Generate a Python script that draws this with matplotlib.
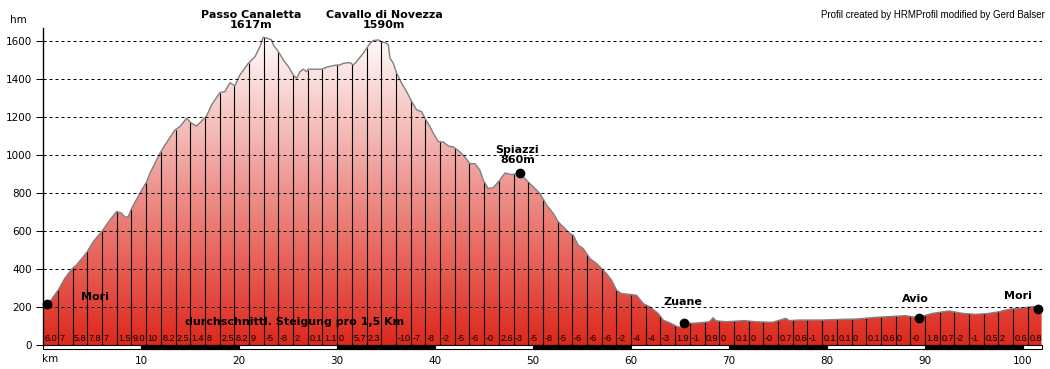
import numpy as np
import matplotlib
matplotlib.use('Agg')
import matplotlib.pyplot as plt
from matplotlib.patches import Polygon, Rectangle

# profile (km, m)
km = [0.0, 0.68, 1.53, 2.21, 2.89, 3.40, 4.43, 5.11, 5.96, 6.81, 7.49, 8.00, 8.34, 8.68,
      9.02, 9.87, 10.55, 10.89, 11.91, 12.42, 13.44, 13.95, 14.63, 15.14, 15.65, 16.67,
      17.18, 18.03, 18.54, 19.05, 19.56, 20.07, 20.93, 21.61, 22.12, 22.46, 22.80, 23.31,
      23.48, 23.99, 24.50, 25.01, 25.52, 25.86, 26.20, 26.54, 26.88, 27.05, 27.56, 28.41,
      28.92, 29.43, 29.94, 30.28, 30.62, 31.30, 31.64, 31.98, 32.66, 33.00, 33.35, 33.69,
      34.20, 34.54, 35.05, 35.22, 35.39, 35.73, 36.07, 36.58, 37.09, 37.60, 38.11, 38.62,
      38.96, 39.47, 39.81, 40.32, 40.83, 41.34, 41.85, 42.53, 43.04, 43.55, 44.06, 44.57,
      44.92, 45.42, 45.93, 46.45, 47.13, 47.81, 48.32, 49.00, 49.51, 50.03, 50.71, 51.39,
      52.07, 52.57, 53.25, 53.76, 54.10, 54.61, 55.12, 55.81, 56.49, 56.99, 57.50, 58.02,
      58.53, 59.04, 59.89, 60.57, 61.25, 61.93, 62.78, 63.29, 63.97, 64.65, 65.00, 65.50,
      66.35, 67.14, 67.99, 68.39, 68.66, 69.68, 71.54, 72.74, 74.44, 75.80, 76.14, 77.16,
      79.54, 81.58, 82.94, 84.98, 86.34, 88.04, 89.06, 89.50, 90.76, 92.46, 93.82, 95.18,
      96.54, 97.56, 98.58, 99.61, 100.46, 101.14, 101.9]
elev = [215, 230, 291, 353, 400, 423, 488, 546, 598, 660, 704, 695, 674, 677,
        721, 800, 861, 905, 1011, 1054, 1133, 1151, 1195, 1168, 1154, 1207,
        1265, 1330, 1335, 1382, 1365, 1423, 1484, 1519, 1572, 1621, 1617, 1607,
        1581, 1546, 1502, 1467, 1423, 1405, 1440, 1453, 1440, 1453, 1453, 1453,
        1463, 1470, 1475, 1475, 1484, 1488, 1475, 1493, 1537, 1563, 1589, 1604,
        1607, 1598, 1589, 1581, 1511, 1484, 1432, 1379, 1335, 1283, 1239, 1230,
        1195, 1151, 1116, 1072, 1070, 1049, 1044, 1018, 991, 956, 956, 921,
        868, 825, 830, 860, 907, 898, 904, 886, 860, 833, 798, 737,
        693, 649, 614, 588, 579, 526, 509, 456, 430, 404, 377, 342,
        289, 272, 268, 263, 219, 202, 167, 132, 118, 100, 96, 118,
        116, 119, 124, 145, 129, 124, 130, 124, 121, 142, 130, 133,
        133, 137, 138, 147, 151, 156, 147, 150, 168, 181, 168, 163,
        168, 177, 190, 195, 200, 204, 205]

# average gradient per 1.5 km segment
seg_labels = ['6.0', '7', '5.8', '7.8', '7', '1.5', '9.0', '10', '8.2', '2.5', '1.4', '8',
              '2.5', '8.2', '9', '-5', '-8', '2', '0.1', '1.1', '0', '5.7', '2.3', '',
              '-10', '-7', '-8', '-2', '-5', '-6', '-0', '2.6', '-3', '-5', '-8', '-5',
              '-6', '-6', '-6', '-2', '-4', '-4', '-3', '1.9', '-1', '0.9', '0', '0.1',
              '0', '-0', '0.7', '0.6', '-1', '0.1', '0.1', '0', '0.1', '0.6', '0', '-0',
              '1.8', '0.7', '-2', '-1', '0.5', '2', '0.6', '0.8']

# places: dot position and label
places = ['Mori', 'Zuane', 'Avio', 'Mori']
place_km = [0.35, 65.4, 89.4, 101.5]
place_elev = [217, 116, 146, 191]
place_label_km = [5.3, 65.3, 89.0, 99.5]

peaks = ['Passo Canaletta\n1617m', 'Cavallo di Novezza\n1590m']
peak_km = [21.2, 34.8]

spiazzi_km = 48.66
spiazzi_elev = 907

yticks = [0, 200, 400, 600, 800, 1000, 1200, 1400, 1600]
xticks = [10, 20, 30, 40, 50, 60, 70, 80, 90, 100]

XMAX = 101.9
YMAX = 1670

fig = plt.figure(figsize=(10.5, 3.69), dpi=100)
ax = fig.add_axes([0.0412, 0.0642, 0.9508, 0.86])
ax.set_xlim(0, XMAX)
ax.set_ylim(0, YMAX)

# gradient fill clipped by the profile
top = np.array([255, 255, 255]) / 255
bottom = np.array([222, 40, 28]) / 255
t = np.linspace(0, 1, 300)[:, None]
grad = top[None, :] * (1 - t) + bottom[None, :] * t
grad = np.repeat(grad[:, None, :], 2, axis=1)
im = ax.imshow(grad, extent=[0, XMAX, 0, 1650], origin='upper', aspect='auto', zorder=1)
ax.set_ylim(0, YMAX)
verts = [(0, 0)] + list(zip(km, elev)) + [(km[-1], 0)]
poly = Polygon(verts, closed=True, facecolor='none', edgecolor='none')
ax.add_patch(poly)
im.set_clip_path(poly)

# segment lines every 1.5 km
seg_x = np.arange(1.5, XMAX, 1.5)
seg_top = np.interp(seg_x, km, elev)
ax.vlines(seg_x, 0, seg_top, color='black', lw=0.8, zorder=2)

ax.plot(km, elev, color='#808080', lw=1, zorder=3)

for y in yticks[1:]:
    ax.axhline(y, color='black', lw=0.72, linestyle=(0, (3, 3)), zorder=4)

for i, lab in enumerate(seg_labels):
    ax.text(i * 1.5 + 0.15, 37, lab, fontsize=6.5, family='Liberation Sans',
            ha='left', va='center', zorder=5, clip_on=True)

ax.text(14.5, 124, 'durchschnittl. Steigung pro 1,5 Km', fontsize=8, fontweight='bold',
        ha='left', va='center', zorder=5)

# places
ax.plot(place_km, place_elev, 'o', color='black', ms=6, zorder=6, clip_on=False)
ax.plot([spiazzi_km], [spiazzi_elev], 'o', color='black', ms=6, zorder=6)
for name, x, e in zip(places, place_label_km, [254, 229, 244, 259]):
    ax.text(x, e, name, fontsize=8, fontweight='bold', ha='center', va='center', zorder=6)
for name, x in zip(peaks, peak_km):
    ax.text(x, 1712, name, fontsize=8, fontweight='bold', ha='center', va='center',
            linespacing=1.0, clip_on=False)
ax.text(48.4, 1001, 'Spiazzi\n860m', fontsize=8, fontweight='bold', ha='center',
        va='center', linespacing=1.0, zorder=6)

# km bar under the axis
ax.add_patch(Rectangle((0, -21), XMAX, 21, facecolor='white', edgecolor='black',
                       lw=0.8, clip_on=False, zorder=5))
for x0 in range(10, 100, 20):
    ax.add_patch(Rectangle((x0, -21), 10, 21, facecolor='black', edgecolor='black',
                           lw=0.8, clip_on=False, zorder=5))

for s in ['top', 'right', 'bottom']:
    ax.spines[s].set_visible(False)
ax.spines['left'].set_linewidth(1)
ax.spines['left'].set_zorder(7)

ax.set_yticks(yticks)
ax.set_yticklabels([str(v) for v in yticks], fontsize=7.5)
ax.tick_params(axis='y', length=5, width=0.72, pad=3)
ax.set_xticks(xticks)
ax.set_xticklabels([str(v) for v in xticks], fontsize=7.5)
ax.tick_params(axis='x', length=0, pad=8)
ax.text(0.65, -72, 'km', fontsize=7.5, ha='center', va='center', clip_on=False)

fig.text(10 / 1050, 1 - 20 / 369, 'hm', fontsize=7.5, ha='left', va='center')
fig.text(1045 / 1050, 1 - 15 / 369, 'Profil created by HRMProfil modified by Gerd Balser',
         fontsize=7, family='Liberation Sans', ha='right', va='center')

fig.savefig('out.png', dpi=100)
